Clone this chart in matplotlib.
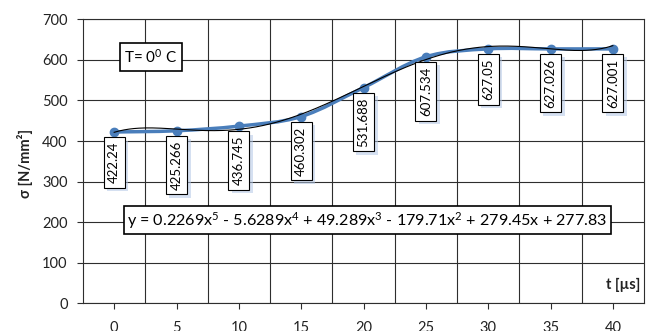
import numpy as np
import matplotlib
matplotlib.use("Agg")
import matplotlib.pyplot as plt
from matplotlib.path import Path
from matplotlib.patches import PathPatch
import matplotlib.patheffects as pe

# --- DATA ---
t_labels = ["0", "5", "10", "15", "20", "25", "30", "35", "40"]
sigma = [422.24, 425.266, 436.745, 460.302, 531.688, 607.534, 627.05, 627.026, 627.001]
sigma_labels = ["422.24", "425.266", "436.745", "460.302", "531.688",
                "607.534", "627.05", "627.026", "627.001"]
# trendline coefficients (x = category index 1..9), highest power first
trend_coef = [0.2269, -5.6289, 49.289, -179.71, 279.45, 277.83]
equation = ("y = 0.2269x$^5$ - 5.6289x$^4$ + 49.289x$^3$ - "
            "179.71x$^2$ + 279.45x + 277.83")

plt.rcParams['font.family'] = ['Lato', 'DejaVu Sans']
plt.rcParams['mathtext.fontset'] = 'custom'
plt.rcParams['mathtext.rm'] = 'Lato'
plt.rcParams['mathtext.it'] = 'Lato'
plt.rcParams['mathtext.bf'] = 'Lato:bold'

BLUE = '#4a7ebb'
GRID = '#2e2e2e'

W, H = 647, 331
fig = plt.figure(figsize=(W / 100, H / 100), dpi=100)
ax = fig.add_axes([83 / W, 1 - 303.3 / H, 561 / W, (303.3 - 19.3) / H])

x = np.arange(len(sigma))
y = np.array(sigma)

# smoothed series line (Catmull-Rom style bezier, like Excel "smoothed line")
pts = np.column_stack([x, y]).astype(float)
ext = np.vstack([pts[0], pts, pts[-1]])
verts = [tuple(pts[0])]
codes = [Path.MOVETO]
for i in range(len(pts) - 1):
    p0, p1, p2, p3 = ext[i], ext[i + 1], ext[i + 2], ext[i + 3]
    c1 = p1 + (p2 - p0) / 6
    c2 = p2 - (p3 - p1) / 6
    verts += [tuple(c1), tuple(c2), tuple(p2)]
    codes += [Path.CURVE4] * 3
ax.add_patch(PathPatch(Path(verts, codes), fill=False, edgecolor=BLUE,
                       lw=2.5, capstyle='round', zorder=3))
ax.plot(x, y, 'o', color=BLUE, ms=6, zorder=4)

# polynomial trendline
xf = np.linspace(1, len(sigma), 300)
ax.plot(xf - 1, np.polyval(trend_coef, xf), color='black', lw=0.8, zorder=5)

# data labels
for xi, yi, lab in zip(x, y, sigma_labels):
    ann = ax.annotate(lab, (xi, yi), xytext=(0, -7), textcoords='offset points',
                      rotation=90, ha='center', va='top', fontsize=9.5, zorder=6,
                      bbox=dict(boxstyle='square,pad=0.35', fc='white', ec='black', lw=0.8))
    ann.get_bbox_patch().set_path_effects([
        pe.SimplePatchShadow(offset=(2.5, -2.5), shadow_rgbFace='#b4c8e6', alpha=0.55),
        pe.Normal()])

# equation and temperature boxes
ax.text(4.06, 205, equation, ha='center', va='center', fontsize=11.6, zorder=6,
        bbox=dict(boxstyle='square,pad=0.2', fc='white', ec='black', lw=1.2))
ax.text(0.59, 607, "T= 0$^0$ C", ha='center', va='center', fontsize=11, zorder=6,
        bbox=dict(boxstyle='square,pad=0.3', fc='white', ec='black', lw=1.2))

# axes
ax.set_xlim(-0.5, len(sigma) - 0.5)
ax.set_ylim(0, 700)
ax.set_yticks(np.arange(0, 701, 100))
ax.set_xticks(x)
ax.set_xticklabels(t_labels)
ax.set_xticks(np.arange(0.5, len(sigma) - 1, 1), minor=True)
ax.tick_params(axis='x', which='major', length=4, width=0.8, pad=9, labelsize=10.5,
               color=GRID, labelcolor='#222222')
ax.tick_params(axis='x', which='minor', length=0)
ax.tick_params(axis='y', length=4, width=0.8, pad=7, labelsize=10.5,
               color=GRID, labelcolor='#222222')
ax.grid(True, axis='y', which='major', color=GRID, lw=0.8)
ax.grid(True, axis='x', which='minor', color=GRID, lw=0.8)
ax.set_axisbelow(True)
for s in ax.spines.values():
    s.set_color(GRID)
    s.set_linewidth(0.8)

fig.text(25 / W, 1 - 163 / H, "σ [N/mm²]", rotation=90, ha='center', va='center',
         fontsize=10.5, fontweight='bold', color='#222222')
ax.text(0.994, 0.065, "t [µs]", transform=ax.transAxes, ha='right', va='center',
        fontsize=10.5, fontweight='bold', color='#222222')

fig.savefig("out.png", dpi=100)
